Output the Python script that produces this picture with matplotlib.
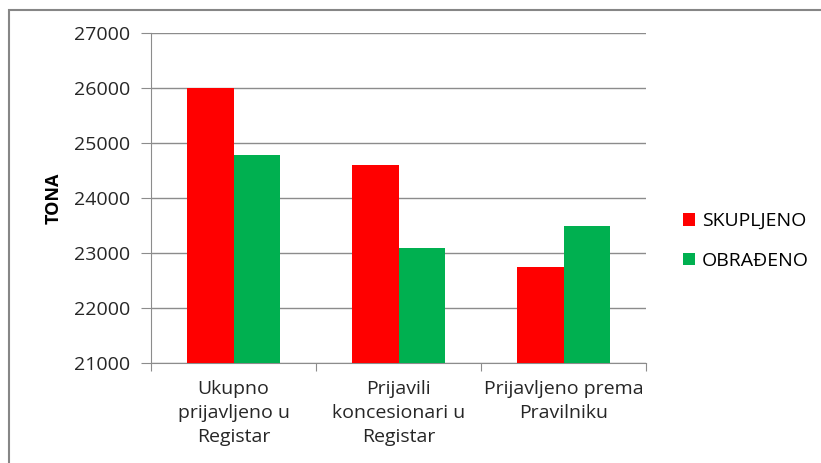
import numpy as np
import matplotlib.pyplot as plt
from matplotlib.patches import Rectangle

categories = ['Ukupno\nprijavljeno u\nRegistar', 'Prijavili\nkoncesionari u\nRegistar', 'Prijavljeno prema\nPravilniku']
skupljeno = [26000, 24600, 22750]
obradjeno = [24780, 23100, 23500]
series_names = ['SKUPLJENO', 'OBRAĐENO']

plt.rcParams['font.family'] = ['Open Sans', 'DejaVu Sans']

fig = plt.figure(figsize=(8.21, 4.63), dpi=100)
ax = fig.add_axes([151 / 821, 1 - 363 / 463, (646 - 151) / 821, (363 - 33) / 463])

x = np.arange(len(categories))
w = 0.28
ax.bar(x - w / 2, skupljeno, w, color='#ff0000', label=series_names[0], zorder=3)
ax.bar(x + w / 2, obradjeno, w, color='#00b050', label=series_names[1], zorder=3)

ax.set_ylim(21000, 27000)
ax.set_xlim(-0.5, 2.5)
ax.set_yticks(range(21000, 27001, 1000))
ax.yaxis.grid(True, color='#8c8c8c', linewidth=1, zorder=0)
ax.tick_params(axis='y', length=7, color='#8c8c8c', labelsize=14, labelcolor='#262626', pad=8)

# category boundary ticks on x axis
ax.set_xticks([-0.5, 0.5, 1.5, 2.5])
ax.set_xticklabels([])
ax.tick_params(axis='x', length=6, color='#8c8c8c')
for i, lab in enumerate(categories):
    ax.text(x[i], 20700, lab, ha='center', va='top', fontsize=14, color='#262626', linespacing=1.45)

for s in ['top', 'right']:
    ax.spines[s].set_visible(False)
for s in ['left', 'bottom']:
    ax.spines[s].set_color('#8c8c8c')

ax.set_ylabel('TONA', fontsize=13, fontweight='bold', labelpad=8)

ax.legend(loc='center left', bbox_to_anchor=(1.04, 0.37), frameon=False, fontsize=14,
          handlelength=0.6, handleheight=0.6, labelspacing=1.1, handletextpad=0.35)

fig.patches.append(Rectangle((9 / 821, -0.1), 2, 1 - 10 / 463 + 0.1, transform=fig.transFigure,
                             fill=False, edgecolor='#868686', linewidth=1.5))

fig.savefig('out.png', dpi=100)
